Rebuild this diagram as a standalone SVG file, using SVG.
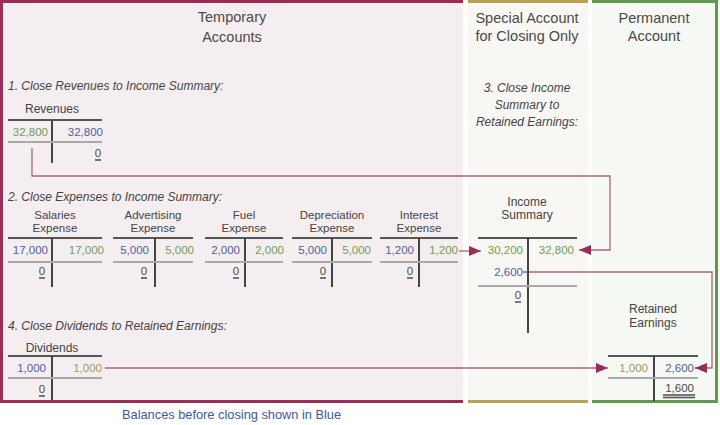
<svg xmlns="http://www.w3.org/2000/svg" width="720" height="425" viewBox="0 0 720 425">
<defs>
<style>
text{font-family:"Liberation Sans",Arial,sans-serif;}
.hdr{font-size:14.5px;fill:#4a4a4a;text-anchor:middle;}
.step{font-size:12px;font-style:italic;fill:#444;}
.stepc{font-size:12px;font-style:italic;fill:#444;text-anchor:middle;}
.ttl{font-size:12px;fill:#444;text-anchor:middle;}
.ttl2{font-size:11.5px;fill:#444;text-anchor:middle;}
.num{font-size:11.5px;}
.e{text-anchor:end;}
.m{text-anchor:middle;}
.blue{fill:#4b62a3;}
.green{fill:#6f9d55;}
.olive{fill:#a39a58;}
.dark{fill:#4a4a4a;}
.top{stroke:#555;stroke-width:2;}
.mid{stroke:#aaa;stroke-width:2;}
.vert{stroke:#444;stroke-width:2;}
.ul{stroke:#555;stroke-width:1.6;}
.conn{fill:none;stroke:#a5677d;stroke-width:1.3;marker-end:url(#ah);}
.foot{font-size:12.8px;fill:#3d5aa0;}
</style>
<marker id="ah" viewBox="0 0 12 10" refX="12" refY="5" markerWidth="12" markerHeight="10" markerUnits="userSpaceOnUse" orient="auto">
<path d="M0,0 L12,5 L0,10 z" fill="#9b2c55"/>
</marker>
</defs>

<g id="panels">
<rect x="0" y="0" width="463" height="403" fill="#f5eef0"/>
<rect x="468" y="0" width="120" height="403" fill="#f8f7f3"/>
<rect x="592" y="0" width="126" height="403" fill="#f6f8f4"/>
<g fill="#9b2c55">
<rect x="0" y="0" width="463" height="3"/>
<rect x="0" y="0" width="3" height="403"/>
<rect x="0" y="400" width="463" height="3"/>
</g>
<g fill="#b8a255">
<rect x="468" y="0" width="120" height="3"/>
<rect x="468" y="400" width="120" height="3"/>
</g>
<g fill="#5f9a4c">
<rect x="592" y="0" width="126" height="3"/>
<rect x="715" y="0" width="3" height="403"/>
<rect x="592" y="400" width="126" height="3"/>
</g>
</g>

<g id="headers">
<text class="hdr" x="232" y="22">Temporary</text>
<text class="hdr" x="232" y="42">Accounts</text>
<text class="hdr" x="527" y="23">Special Account</text>
<text class="hdr" x="527" y="41">for Closing Only</text>
<text class="hdr" x="654" y="23">Permanent</text>
<text class="hdr" x="654" y="41">Account</text>
</g>

<g id="steps">
<text class="step" x="8" y="90">1. Close Revenues to Income Summary:</text>
<text class="step" x="8" y="201">2. Close Expenses to Income Summary:</text>
<text class="stepc" x="527" y="92">3. Close Income</text>
<text class="stepc" x="527" y="109">Summary to</text>
<text class="stepc" x="527" y="126">Retained Earnings:</text>
<text class="step" x="8" y="330">4. Close Dividends to Retained Earnings:</text>
</g>

<g id="connectors">
<path class="conn" d="M32,148 V176 H610 V250 H579"/>
<path class="conn" d="M459,251 H481"/>
<path class="conn" d="M523,272 H712 V368 H695"/>
<path class="conn" d="M105,368 H608"/>
</g>

<g id="revenues">
<text class="ttl" x="52" y="113">Revenues</text>
<line class="top" x1="8" y1="120" x2="102" y2="120"/>
<line class="vert" x1="52" y1="120" x2="52" y2="163"/>
<text class="num green e" x="48" y="136">32,800</text>
<text class="num blue e" x="103" y="136">32,800</text>
<line class="mid" x1="8" y1="142" x2="102" y2="142"/>
<text class="num dark m" x="98" y="157">0</text>
<line class="ul" x1="95" y1="160" x2="101" y2="160"/>
</g>

<g id="salaries">
<text class="ttl2" x="55" y="219">Salaries</text>
<text class="ttl2" x="55" y="231.5">Expense</text>
<line class="top" x1="8" y1="238" x2="102" y2="238"/>
<line class="vert" x1="52" y1="238" x2="52" y2="287"/>
<text class="num blue e" x="48" y="254">17,000</text>
<text class="num green e" x="104" y="254">17,000</text>
<line class="mid" x1="8" y1="262" x2="102" y2="262"/>
<text class="num dark m" x="42" y="275">0</text>
<line class="ul" x1="39" y1="278" x2="45" y2="278"/>
</g>

<g id="advertising">
<text class="ttl2" x="153" y="219">Advertising</text>
<text class="ttl2" x="153" y="231.5">Expense</text>
<line class="top" x1="113" y1="238" x2="193" y2="238"/>
<line class="vert" x1="155" y1="238" x2="155" y2="287"/>
<text class="num blue e" x="149" y="254">5,000</text>
<text class="num green e" x="194" y="254">5,000</text>
<line class="mid" x1="113" y1="262" x2="193" y2="262"/>
<text class="num dark m" x="144" y="275">0</text>
<line class="ul" x1="141" y1="278" x2="147" y2="278"/>
</g>

<g id="fuel">
<text class="ttl2" x="244" y="219">Fuel</text>
<text class="ttl2" x="244" y="231.5">Expense</text>
<line class="top" x1="205" y1="238" x2="283" y2="238"/>
<line class="vert" x1="245" y1="238" x2="245" y2="287"/>
<text class="num blue e" x="240" y="254">2,000</text>
<text class="num green e" x="284" y="254">2,000</text>
<line class="mid" x1="205" y1="262" x2="283" y2="262"/>
<text class="num dark m" x="236" y="275">0</text>
<line class="ul" x1="233" y1="278" x2="239" y2="278"/>
</g>

<g id="depreciation">
<text class="ttl2" x="332" y="219">Depreciation</text>
<text class="ttl2" x="332" y="231.5">Expense</text>
<line class="top" x1="292" y1="238" x2="372" y2="238"/>
<line class="vert" x1="332" y1="238" x2="332" y2="287"/>
<text class="num blue e" x="327" y="254">5,000</text>
<text class="num green e" x="371" y="254">5,000</text>
<line class="mid" x1="292" y1="262" x2="372" y2="262"/>
<text class="num dark m" x="323" y="275">0</text>
<line class="ul" x1="320" y1="278" x2="326" y2="278"/>
</g>

<g id="interest">
<text class="ttl2" x="419" y="219">Interest</text>
<text class="ttl2" x="419" y="231.5">Expense</text>
<line class="top" x1="380" y1="238" x2="458" y2="238"/>
<line class="vert" x1="419" y1="238" x2="419" y2="287"/>
<text class="num blue e" x="414" y="254">1,200</text>
<text class="num green e" x="458" y="254">1,200</text>
<line class="mid" x1="380" y1="262" x2="458" y2="262"/>
<text class="num dark m" x="410" y="275">0</text>
<line class="ul" x1="407" y1="278" x2="413" y2="278"/>
</g>

<g id="income-summary">
<text class="ttl" x="527" y="206">Income</text>
<text class="ttl" x="527" y="219">Summary</text>
<line class="top" x1="478" y1="238" x2="577" y2="238"/>
<line class="vert" x1="528" y1="238" x2="528" y2="333"/>
<text class="num green e" x="523" y="254">30,200</text>
<text class="num green e" x="574" y="254">32,800</text>
<text class="num blue e" x="523" y="276">2,600</text>
<line class="mid" x1="478" y1="286" x2="577" y2="286"/>
<text class="num dark m" x="518" y="299">0</text>
<line class="ul" x1="515" y1="302" x2="521" y2="302"/>
</g>

<g id="dividends">
<text class="ttl" x="52" y="352">Dividends</text>
<line class="top" x1="8" y1="356" x2="102" y2="356"/>
<line class="vert" x1="52" y1="356" x2="52" y2="400"/>
<text class="num blue e" x="46" y="372">1,000</text>
<text class="num olive e" x="102" y="372">1,000</text>
<line class="mid" x1="8" y1="378" x2="102" y2="378"/>
<text class="num dark m" x="42" y="393">0</text>
<line class="ul" x1="39" y1="396" x2="45" y2="396"/>
</g>

<g id="retained-earnings">
<text class="ttl" x="653" y="313">Retained</text>
<text class="ttl" x="653" y="327">Earnings</text>
<line class="top" x1="608" y1="356" x2="698" y2="356"/>
<line class="vert" x1="654" y1="356" x2="654" y2="401"/>
<text class="num olive e" x="648" y="372">1,000</text>
<text class="num blue e" x="694" y="372">2,600</text>
<line class="mid" x1="608" y1="378" x2="698" y2="378"/>
<text class="num dark e" x="694" y="392">1,600</text>
<line class="ul" x1="663" y1="395" x2="695" y2="395"/>
<line class="ul" x1="663" y1="397.5" x2="695" y2="397.5"/>
</g>

<text class="foot" x="122" y="419">Balances before closing shown in Blue</text>
</svg>
